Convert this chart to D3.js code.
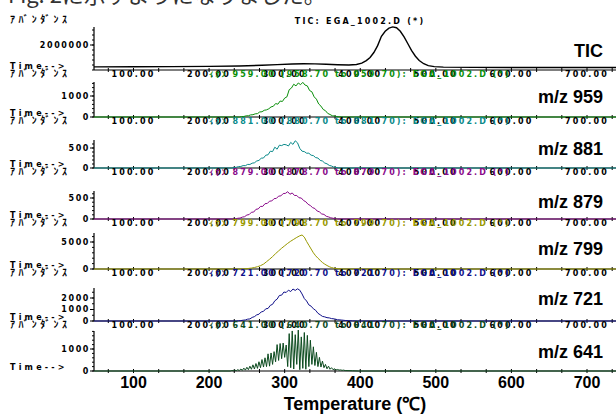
<!DOCTYPE html>
<html>
<head>
<meta charset="utf-8">
<script src="https://cdn.jsdelivr.net/npm/d3@7"></script>
<style>
  body { margin: 0; background: #fff; }
  svg { display: block; overflow: hidden; }
  .sm { font-family: "DejaVu Sans", "Noto Sans CJK JP", sans-serif; font-weight: bold; font-size: 8px; letter-spacing: 2.2px; }
  .kana { font-family: "Noto Sans CJK JP", sans-serif; font-weight: bold; font-size: 10px; letter-spacing: 3.4px; }
  .big { font-family: "Liberation Sans", Arial, sans-serif; font-weight: bold; }
</style>
</head>
<body>
<svg width="616" height="417"></svg>
<script>
const svg = d3.select("svg");

// ---- data ----
const panelLabels = ["TIC", "m/z 959", "m/z 881", "m/z 879", "m/z 799", "m/z 721", "m/z 641"];
const headers = [
  "TIC: EGA_1002.D (*)",
  "ｲｵﾝ 959.00 (958.70 to 959.70): EGA_1002.D (*)",
  "ｲｵﾝ 881.00 (880.70 to 881.70): EGA_1002.D (*)",
  "ｲｵﾝ 879.00 (878.70 to 879.70): EGA_1002.D (*)",
  "ｲｵﾝ 799.00 (798.70 to 799.70): EGA_1002.D (*)",
  "ｲｵﾝ 721.00 (720.70 to 721.70): EGA_1002.D (*)",
  "ｲｵﾝ 641.00 (640.70 to 641.70): EGA_1002.D (*)"
];
const yTicks = [[2000000], [0, 1000], [0, 500], [0, 500], [0, 5000], [0, 1000, 2000], [0, 1000]];
const xTicks = [100, 200, 300, 400, 500, 600, 700];
const colors = ["#000000", "#0a8f0a", "#0a8a8a", "#8a0a8a", "#999900", "#10108a", "#0b4a1e"];

const tic = [[48,250000],[100,260000],[150,270000],[200,290000],[240,320000],[270,380000],[290,430000],
  [310,480000],[325,500000],[340,490000],[355,460000],[370,420000],[385,400000],[395,440000],[402,550000],
  [408,750000],[413,1000000],[418,1400000],[423,1950000],[428,2700000],[433,3100000],[438,3350000],
  [443,3450000],[448,3380000],[453,3100000],[458,2650000],[463,2100000],[468,1550000],[473,1100000],
  [478,760000],[484,500000],[490,350000],[498,270000],[510,230000],[550,210000],[650,200000],[737,200000]];

const mz959 = [[240,0],[243,20],[246,25],[249,55],[252,60],[255,100],[258,110],[261,150],[264,160],[267,240],
  [270,250],[273,320],[276,340],[279,390],[282,480],[285,510],[288,640],[291,610],[294,760],[297,740],
  [300,900],[303,960],[306,1300],[309,1380],[312,1560],[315,1480],[318,1620],[321,1540],[324,1650],
  [327,1520],[330,1480],[333,1260],[336,1200],[339,960],[342,850],[345,620],[348,520],[351,360],
  [354,300],[357,170],[360,120],[363,60],[366,45],[369,20],[372,8],[375,5],[378,0]];

const mz881 = [[230,0],[233,12],[236,18],[239,35],[242,38],[245,60],[248,58],[251,90],[254,88],[257,120],
  [260,130],[263,175],[266,190],[269,245],[272,250],[275,320],[278,330],[281,420],[284,410],[287,520],
  [290,470],[293,570],[296,560],[299,590],[302,580],[305,550],[308,640],[311,590],[314,680],[317,630],
  [320,490],[323,420],[326,410],[329,370],[332,370],[335,320],[338,310],[341,260],[344,250],[347,190],
  [350,175],[353,125],[356,105],[359,65],[362,50],[365,22],[368,14],[371,5],[374,0]];

const mz879 = [[235,0],[238,18],[241,22],[244,45],[247,55],[250,95],[253,105],[256,160],[259,165],[262,230],
  [265,240],[268,300],[271,300],[274,365],[277,370],[280,425],[283,430],[286,485],[289,490],[292,545],
  [295,550],[298,605],[301,610],[304,650],[307,590],[310,620],[313,560],[316,560],[319,505],[322,500],
  [325,440],[328,410],[331,350],[334,320],[337,270],[340,250],[343,190],[346,170],[349,120],[352,110],
  [355,65],[358,50],[361,28],[364,18],[367,6],[370,0]];

const mz799 = [[240,0],[244,20],[248,50],[252,100],[256,170],[260,280],[264,420],[268,620],[272,900],
  [276,1350],[280,1800],[284,2300],[288,2850],[292,3350],[296,3850],[300,4300],[304,4750],[308,5150],
  [312,5500],[316,5850],[320,6150],[323,6300],[326,5900],[329,5100],[332,4400],[335,3700],[338,3000],
  [341,2450],[344,2000],[347,1600],[350,1200],[353,900],[356,650],[359,430],[362,270],[365,150],
  [368,90],[371,50],[375,20],[380,0]];

const mz721 = [[236,0],[239,25],[242,35],[245,70],[248,90],[251,160],[254,180],[257,310],[260,380],
  [263,530],[266,590],[269,790],[272,840],[275,1060],[278,1090],[281,1360],[284,1450],[287,1760],
  [290,1900],[293,2220],[296,2250],[299,2520],[302,2480],[305,2680],[308,2560],[311,2780],[314,2660],
  [317,2800],[320,2680],[323,2350],[326,1950],[329,1740],[332,1400],[335,1290],[338,1060],[341,930],
  [344,670],[347,540],[350,400],[353,360],[356,290],[359,270],[362,210],[366,180],[370,110],[375,85],
  [380,45],[385,28],[390,10],[396,0]];

const mz641 = [[228,0],[230,20],[232,10],[234,40],[236,15],[238,60],[240,20],[242,90],[244,30],[246,130],
  [248,40],[250,170],[252,60],[254,220],[256,80],[258,280],[260,90],[262,340],[264,120],[266,420],
  [268,150],[270,520],[272,180],[274,600],[276,200],[278,780],[280,220],[282,820],[284,300],[286,880],
  [288,420],[290,1200],[292,480],[294,1250],[296,560],[298,1270],[300,620],[302,1180],[304,200],
  [306,1700],[308,150],[310,1820],[312,90],[314,1650],[316,300],[318,1860],[320,60],[322,1550],
  [324,120],[326,1750],[328,80],[330,1620],[332,200],[334,1400],[336,300],[338,1100],[340,250],
  [342,850],[344,200],[346,620],[348,180],[350,450],[352,150],[354,300],[356,100],[358,220],[360,80],
  [362,150],[364,60],[366,100],[368,50],[370,70],[372,40],[374,50],[376,30],[378,40],[380,20],
  [390,10],[398,0]];

const series = [tic, mz959, mz881, mz879, mz799, mz721, mz641];

// ---- layout ----
// base: pixel of the x axis, ref/refY: one y tick and its pixel row, top: top of y axis
const layout = [
  { top: 27,  base: 70,  ref: 2000000, refY: 45,  minor: 400000, labelY: 57 },
  { top: 82,  base: 117, ref: 1000,    refY: 96,  minor: 200,    labelY: 103 },
  { top: 140, base: 168, ref: 500,     refY: 148, minor: 100,    labelY: 155 },
  { top: 191, base: 219, ref: 500,     refY: 198, minor: 100,    labelY: 208 },
  { top: 233, base: 269, ref: 5000,    refY: 242, minor: 1000,   labelY: 255 },
  { top: 288, base: 321, ref: 2000,    refY: 298, minor: 500,    labelY: 305 },
  { top: 331, base: 371, ref: 1000,    refY: 349, minor: 200,    labelY: 358 }
];

const axisX0 = 94, axisX1 = 616;
const x = d3.scaleLinear().domain([100, 700]).range([133.5, 587]);
const tLeft = x.invert(axisX0), tRight = x.invert(axisX1);
const minorX = d3.range(100 - 100 / 3, tRight, 100 / 3);

// cut-off line of text above the chart (only its lower edge shows)
svg.append("text")
  .attr("x", 8).attr("y", 3)
  .style("font-family", "'Noto Sans CJK JP', sans-serif")
  .style("font-size", "22px")
  .attr("fill", "#333")
  .text("Fig. 2に示すようになりました。");

// TIC title row
svg.append("text").attr("class", "kana").attr("x", 10).attr("y", 23).text("ｱﾊﾞﾝﾀﾞﾝｽ");
svg.append("text").attr("class", "sm").attr("x", 360).attr("y", 24)
  .attr("text-anchor", "middle").text(headers[0]);

layout.forEach((p, i) => {
  const g = svg.append("g");
  const y = d3.scaleLinear().domain([0, p.ref]).range([p.base, p.refY]);
  const last = i === layout.length - 1;

  // x axis line and ticks
  g.append("line").attr("x1", axisX0).attr("x2", axisX1)
    .attr("y1", p.base).attr("y2", p.base).attr("stroke", "#000").attr("stroke-width", 1.2);
  g.selectAll(".xt").data(minorX).enter().append("line")
    .attr("x1", d => x(d)).attr("x2", d => x(d))
    .attr("y1", p.base - 2).attr("y2", p.base + 2)
    .attr("stroke", "#000").attr("stroke-width", 1);

  // y axis line, minor and major ticks
  g.append("line").attr("x1", axisX0).attr("x2", axisX0)
    .attr("y1", p.top).attr("y2", p.base).attr("stroke", "#000").attr("stroke-width", 1.2);
  g.selectAll(".ym").data(d3.range(0, y.invert(p.top), p.minor)).enter().append("line")
    .attr("x1", axisX0 - 2).attr("x2", axisX0)
    .attr("y1", d => y(d)).attr("y2", d => y(d))
    .attr("stroke", "#000").attr("stroke-width", 1);
  g.selectAll(".yt").data(yTicks[i]).enter().append("line")
    .attr("x1", axisX0 - 4).attr("x2", axisX0)
    .attr("y1", d => y(d)).attr("y2", d => y(d))
    .attr("stroke", "#000").attr("stroke-width", 1);
  g.selectAll(".yl").data(yTicks[i]).enter().append("text")
    .attr("class", "sm").style("letter-spacing", "1.6px")
    .attr("x", 90).attr("y", d => y(d)).attr("dy", "0.36em")
    .attr("text-anchor", "end").text(d => d);

  // "Time-->" marker
  g.append("text").attr("class", "sm").style("letter-spacing", "3.2px")
    .attr("x", 10).attr("y", p.base - 1).text("Time-->");

  // trace
  const data = [[tLeft, series[i][0][1]], ...series[i], [tRight, series[i][series[i].length - 1][1]]];
  const line = d3.line().x(d => x(d[0])).y(d => y(d[1]));
  g.append("path").datum(data)
    .attr("d", line)
    .attr("fill", "none")
    .attr("stroke", colors[i])
    .attr("stroke-width", i === 0 ? 1.4 : 1);

  // right-hand label
  g.append("text").attr("class", "big").style("font-size", "18px")
    .attr("x", 603).attr("y", p.labelY).attr("text-anchor", "end")
    .attr("fill", "#000").text(panelLabels[i]);

  if (!last) {
    const row = p.base + 7;
    g.selectAll(".xl").data(xTicks).enter().append("text")
      .attr("class", "sm").attr("x", d => x(d)).attr("y", row)
      .attr("text-anchor", "middle").text(d => d3.format(".2f")(d));
    g.append("text").attr("class", "kana").attr("x", 10).attr("y", row).text("ｱﾊﾞﾝﾀﾞﾝｽ");
    g.append("text").attr("class", "sm").style("letter-spacing", "2.1px")
      .attr("x", 360).attr("y", row).attr("text-anchor", "middle")
      .attr("fill", colors[i + 1]).text(headers[i + 1]);
  } else {
    g.selectAll(".xl").data(xTicks).enter().append("text")
      .attr("class", "big").style("font-size", "16px")
      .attr("x", d => x(d)).attr("y", 388)
      .attr("text-anchor", "middle").text(d => d);
  }
});

svg.append("text").attr("class", "big").style("font-size", "18px")
  .attr("x", 355).attr("y", 410).attr("text-anchor", "middle")
  .text("Temperature (℃)");
</script>
</body>
</html>
